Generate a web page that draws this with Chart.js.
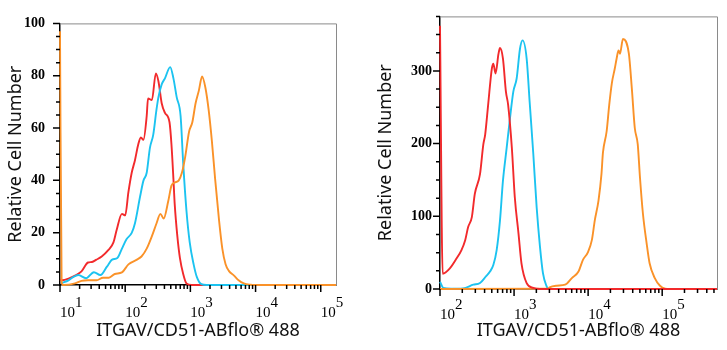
<!DOCTYPE html>
<html>
<head>
<meta charset="utf-8">
<script src="https://cdn.jsdelivr.net/npm/chart.js@4/dist/chart.umd.min.js"></script>
<style>
  body { margin: 0; background: #fff; }
  #wrap { position: relative; width: 727px; height: 350px; }
  canvas { position: absolute; top: 0; }
</style>
</head>
<body>
<div id="wrap">
  <canvas id="left" width="363" height="350" style="left:0"></canvas>
  <canvas id="right" width="364" height="350" style="left:363px"></canvas>
</div>
<script>
// x positions are given in decades (log10 of intensity), y = relative cell number
const leftRedLog = [1.0, 1.03, 1.13, 1.23, 1.33, 1.43, 1.49, 1.56, 1.64, 1.74, 1.82, 1.87, 1.95, 2.0, 2.05, 2.10, 2.15, 2.20, 2.24, 2.28, 2.33, 2.35, 2.41, 2.47, 2.51, 2.56, 2.61, 2.68, 2.71, 2.74, 2.76, 2.80, 2.84, 2.89, 2.94, 3.02, 5.234]
const leftRedY = [2, 1.8, 2.4, 3.6, 5.2, 8.6, 8.8, 9.7, 10.9, 13.3, 16.3, 21.1, 27.2, 26.6, 35.6, 42.9, 47.7, 53.7, 56.4, 55.5, 64.6, 71.3, 70.7, 80.9, 77.9, 69.5, 65.8, 62.2, 53.7, 40.5, 30.8, 18.7, 10.3, 4.2, 0.6, 0, 0]

const leftBlueLog = [1.03, 1.13, 1.20, 1.28, 1.40, 1.52, 1.62, 1.72, 1.80, 1.88, 1.95, 2.02, 2.10, 2.15, 2.23, 2.28, 2.33, 2.38, 2.43, 2.48, 2.51, 2.56, 2.61, 2.69, 2.74, 2.79, 2.85, 2.89, 2.94, 2.99, 3.05, 3.10, 3.17, 3.25, 5.234]
const leftBlueY = [0.8, 1.8, 3.0, 3.8, 2.6, 4.9, 3.8, 7.0, 9.7, 10.3, 13.9, 17.5, 19.9, 23.6, 34, 39.9, 42.9, 52.5, 57.4, 67, 71.8, 76.7, 79, 83.3, 79, 71.8, 64.6, 46.5, 28.4, 16.3, 7.9, 3.0, 0.3, 0, 0]

const leftOrangeLog = [1.0, 1.025, 1.05, 1.23, 1.33, 1.43, 1.56, 1.66, 1.75, 1.84, 1.95, 2.05, 2.18, 2.25, 2.33, 2.41, 2.48, 2.54, 2.59, 2.66, 2.71, 2.76, 2.82, 2.87, 2.92, 2.98, 3.03, 3.08, 3.13, 3.18, 3.23, 3.28, 3.33, 3.38, 3.44, 3.49, 3.54, 3.59, 3.67, 3.74, 3.82, 3.92, 4.0, 5.234]
const leftOrangeY = [97, 1, 0, 0.6, 1.6, 1.8, 1.8, 2.8, 2.8, 4.2, 4.8, 7.9, 9.7, 10.9, 13.9, 18.7, 23.5, 27.2, 25.4, 32, 38, 39.2, 39.9, 42.9, 48.9, 58.6, 62.2, 69.5, 74.3, 79.7, 75.5, 67, 55, 40.5, 24.7, 13.9, 7.9, 5.4, 3.6, 1.8, 0.6, 0.1, 0, 0]

const rightRedLog = [2.0, 2.036, 2.135, 2.225, 2.29, 2.34, 2.38, 2.43, 2.47, 2.54, 2.585, 2.61, 2.65, 2.70, 2.72, 2.75, 2.79, 2.81, 2.85, 2.89, 2.92, 2.97, 3.01, 3.06, 3.10, 3.17, 3.26, 3.35, 5.74]
const rightRedY = [362, 21, 28.6, 42.2, 53.5, 67.2, 85.3, 98.9, 130.8, 158, 199, 212.5, 253.4, 303.3, 310, 296.5, 323.7, 331.5, 317, 271.5, 253.4, 194.3, 126.2, 76.3, 35.4, 8.2, 1.4, 0, 0]

const rightBlueLog = [2.0, 2.045, 2.15, 2.31, 2.45, 2.54, 2.62, 2.675, 2.72, 2.765, 2.81, 2.85, 2.90, 2.945, 2.99, 3.035, 3.08, 3.115, 3.17, 3.21, 3.26, 3.305, 3.35, 3.39, 3.44, 3.46, 5.74]
const rightBlueY = [10, 1.4, 0.5, 0.9, 5.9, 8.2, 17.3, 24, 33, 53.5, 94.4, 149, 194, 235, 271.5, 289.6, 330.5, 342, 317, 258, 185.3, 112.5, 58, 21.8, 3.5, 0, 0]

const rightOrangeLog = [2.0, 3.46, 3.48, 3.575, 3.69, 3.78, 3.87, 3.93, 4.0, 4.05, 4.09, 4.14, 4.18, 4.20, 4.25, 4.285, 4.32, 4.36, 4.385, 4.41, 4.43, 4.47, 4.55, 4.59, 4.63, 4.67, 4.70, 4.74, 4.79, 4.83, 4.90, 4.97, 5.04, 5.1, 5.74]
const rightOrangeY = [0, 0.5, 2.2, 4.5, 5.9, 15, 24, 40, 51.2, 67.2, 94.4, 121.7, 158, 187.5, 217, 253.4, 283, 303.3, 317, 328.3, 323.7, 344, 323.7, 276, 221.5, 199, 153.4, 103.5, 62.7, 35.4, 15, 4.5, 0.5, 0, 0]

// axis ticks
const leftDecades = [10, 100, 1000, 10000, 100000]
const rightDecades = [100, 1000, 10000, 100000]
const minorSteps = [2, 3, 4, 5, 6, 7, 8, 9]
const leftYMax = 100, leftYMajor = 20, leftYMinor = 5
const rightYMax = 375, rightYMajor = 100, rightYMinor = 25
const xTitle = 'ITGAV/CD51-ABflo® 488'
const yTitle = 'Relative Cell Number'

const RED = '#f22a2c', BLUE = '#1cc3f0', ORANGE = '#fa9229'

function pts(logs, ys) {
    return logs.map((l, i) => ({ x: Math.pow(10, l), y: ys[i] }))
}

function line(data, color) {
    return {
        data: data,
        borderColor: color,
        borderWidth: 1.9,
        pointRadius: 0,
        fill: false,
        cubicInterpolationMode: 'monotone',
        clip: 3
    }
}

const tickMarks = {
    id: 'tickMarks',
    afterDraw(chart) {
        const ctx = chart.ctx
        const a = chart.chartArea
        ctx.save()
        ctx.strokeStyle = '#8a8a8a'
        ctx.lineWidth = 1
        ctx.beginPath()
        ctx.moveTo(a.left, a.top + 0.5)
        ctx.lineTo(a.right + 0.5, a.top + 0.5)
        ctx.lineTo(a.right + 0.5, a.bottom)
        ctx.stroke()
        ctx.strokeStyle = '#000'
        ctx.lineWidth = 1.5
        ctx.beginPath()
        const xs = chart.scales.x, ys = chart.scales.y
        xs.ticks.forEach(t => {
            const p = xs.getPixelForValue(t.value)
            ctx.moveTo(p, a.bottom)
            ctx.lineTo(p, a.bottom + (t.major ? 7 : 4))
        })
        ys.ticks.forEach(t => {
            const p = ys.getPixelForValue(t.value)
            ctx.moveTo(a.left, p)
            ctx.lineTo(a.left - (t.major ? 7 : 4), p)
        })
        ctx.stroke()
        ctx.restore()
    }
}

function makeChart(id, cfg) {
    const xTicks = []
    cfg.decades.forEach(d => {
        xTicks.push({ value: d, major: true })
        minorSteps.forEach(m => {
            if (d * m <= cfg.xMax) xTicks.push({ value: d * m, major: false })
        })
    })
    const yTicks = []
    for (let v = 0; v <= cfg.yMax; v += cfg.yMinor) {
        yTicks.push({ value: v, major: v % cfg.yMajor === 0 })
    }
    return new Chart(document.getElementById(id), {
        type: 'line',
        data: { datasets: cfg.datasets },
        options: {
            responsive: false,
            animation: false,
            layout: { padding: cfg.padding },
            plugins: { legend: { display: false }, tooltip: { enabled: false } },
            scales: {
                x: {
                    type: 'logarithmic',
                    min: cfg.xMin,
                    max: cfg.xMax,
                    afterBuildTicks: s => { s.ticks = xTicks.map(t => ({ ...t })) },
                    afterFit: s => { s.height = cfg.xHeight },
                    grid: { display: false, drawTicks: false },
                    border: { color: '#000', width: 1.5 },
                    ticks: {
                        autoSkip: false,
                        maxRotation: 0,
                        align: 'start',
                        padding: cfg.xPad,
                        color: '#000',
                        font: { family: 'Liberation Serif', size: 15, lineHeight: 0.667 },
                        callback: v => {
                            const e = Math.round(Math.log10(v))
                            return cfg.decades.includes(v) ? ['    ' + e, '10'] : ''
                        }
                    },
                    title: {
                        display: true,
                        text: xTitle,
                        color: '#111',
                        font: { family: 'Noto Sans', size: 18 },
                        padding: { top: 0, bottom: 8 }
                    }
                },
                y: {
                    type: 'linear',
                    min: 0,
                    max: cfg.yMax,
                    afterBuildTicks: s => { s.ticks = yTicks.map(t => ({ ...t })) },
                    afterFit: s => { s.width = cfg.yWidth },
                    grid: { display: false, drawTicks: false },
                    border: { color: '#000', width: 1.5 },
                    ticks: {
                        autoSkip: false,
                        padding: cfg.yPad,
                        color: '#000',
                        font: { family: 'Liberation Serif', size: 14, weight: 'bold' },
                        callback: v => (v % cfg.yMajor === 0 ? String(v) : '')
                    },
                    title: {
                        display: true,
                        text: yTitle,
                        color: '#111',
                        font: { family: 'Noto Sans', size: 18 },
                        padding: { top: cfg.yTitlePad, bottom: 0 }
                    }
                }
            }
        },
        plugins: [tickMarks]
    })
}

makeChart('left', {
    datasets: [
        line(pts(leftOrangeLog, leftOrangeY), ORANGE),
        line(pts(leftBlueLog, leftBlueY), BLUE),
        line(pts(leftRedLog, leftRedY), RED)
    ],
    decades: leftDecades,
    xMin: 10, xMax: Math.pow(10, 5.234),
    yMax: leftYMax, yMajor: leftYMajor, yMinor: leftYMinor,
    padding: { left: 0, top: 9, right: 27, bottom: 0 },
    xHeight: 65, yWidth: 60, xPad: 13, yPad: 15, yTitlePad: 5
})

makeChart('right', {
    datasets: [
        line(pts(rightRedLog, rightRedY), RED),
        line(pts(rightOrangeLog, rightOrangeY), ORANGE),
        line(pts(rightBlueLog, rightBlueY), BLUE)
    ],
    decades: rightDecades,
    xMin: 100, xMax: Math.pow(10, 5.74),
    yMax: rightYMax, yMajor: rightYMajor, yMinor: rightYMinor,
    padding: { left: 0, top: 14, right: 10, bottom: 0 },
    xHeight: 61, yWidth: 77, xPad: 11, yPad: 8, yTitlePad: 12
})
</script>
</body>
</html>
